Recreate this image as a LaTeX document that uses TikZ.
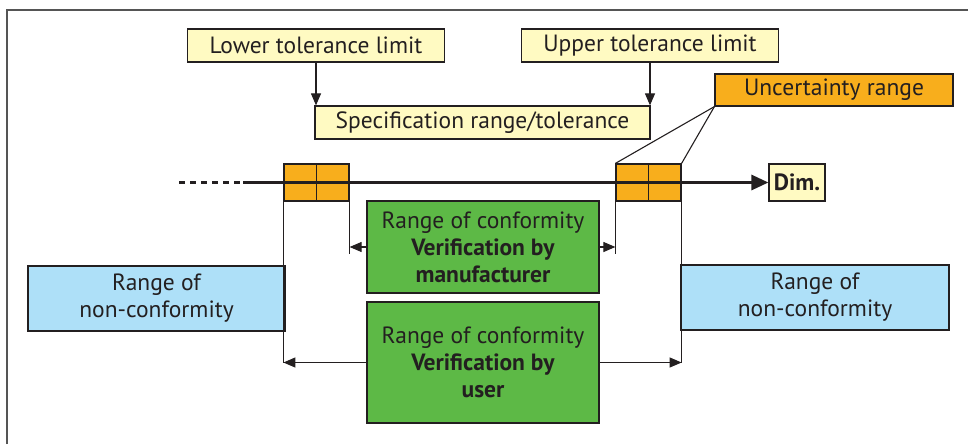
\documentclass[tikz,border=0pt]{standalone}
\usepackage{fontspec}
\setmainfont{PT Sans}
\usetikzlibrary{arrows.meta}
\definecolor{ylw}{HTML}{FFFAC2}
\definecolor{org}{HTML}{F8AE1C}
\definecolor{grn}{HTML}{5DB946}
\definecolor{blu}{HTML}{AEE0F8}
\definecolor{ink}{HTML}{231F20}
\definecolor{frm}{HTML}{555555}
\tikzset{
  bx/.style={draw=ink, line width=1.2pt, inner sep=0pt, align=center, text=ink,
     font=\fontsize{23.5}{27}\selectfont},
  ylwbox/.style={bx, fill=ylw},
  orgbox/.style={bx, fill=org},
  grnbox/.style={bx, fill=grn},
  blubox/.style={bx, fill=blu},
  thin/.style={draw=ink, line width=1.1pt},
  arr/.style={thin, -{Triangle[length=12pt,width=10pt]}},
}
\begin{document}
\begin{tikzpicture}[x=1pt,y=-1pt]
\useasboundingbox (0,0) rectangle (968,444);
% frame
\draw[frm, line width=2pt] (7,444) -- (7,10.5) -- (968,10.5);
% top boxes
\node[ylwbox, minimum width=257pt, minimum height=33pt] (lower) at (316,45.5) {Lower tolerance limit};
\node[ylwbox, minimum width=257pt, minimum height=33pt] (upper) at (650,45.5) {Upper tolerance limit};
\node[ylwbox, minimum width=335pt, minimum height=33pt] (spec) at (482.5,122.5) {Specification range/tolerance};
\node[orgbox, minimum width=238pt, minimum height=32pt] (unc) at (834,90) {Uncertainty range};
\draw[arr] (lower.south) -- (lower.south |- spec.north);
\draw[arr] (upper.south) -- (upper.south |- spec.north);
% uncertainty boxes
\node[orgbox, minimum width=65pt, minimum height=37pt] (oL) at (316.5,182.5) {};
\node[orgbox, minimum width=65pt, minimum height=37pt] (oR) at (648.5,182.5) {};
\draw[thin, line width=1.2pt] (oL.north) -- (oL.south);
\draw[thin, line width=1.2pt] (oR.north) -- (oR.south);
\node[ylwbox, minimum width=56pt, minimum height=37pt, font=\fontsize{23.5}{27}\selectfont\bfseries] (dim) at (797,182.5) {Dim.};
% axis
\coordinate (a0) at (179,182.5);
\coordinate (a1) at (243,182.5);
\draw[ink, line width=3pt, dash pattern=on 6pt off 5pt] (a0) -- (a1);
\draw[ink, line width=3pt, -{Triangle[length=17pt,width=15pt]}] (a1) -- (dim.west);
\draw[thin] (unc.south west) -- (oR.north west);
\draw[thin] (unc.south west) -- (oR.north east);
% green boxes
\node[grnbox, minimum width=232pt, minimum height=92pt] (mfr) at (483,247)
  {Range of conformity\\\textbf{Verification by}\\\textbf{manufacturer}};
\node[grnbox, minimum width=232pt, minimum height=121pt] (usr) at (483,362.5)
  {Range of conformity\\\textbf{Verification by}\\\textbf{user}};
% blue boxes
\node[blubox, minimum width=257pt, minimum height=65pt] (nL) at (156.5,298.5) {Range of\\non-conformity};
\node[blubox, minimum width=268pt, minimum height=65pt] (nR) at (815,297.5) {Range of\\non-conformity};
% extension lines
\coordinate (eL1) at (oL.south east |- 0,254);
\coordinate (eR1) at (oR.south west |- 0,254);
\coordinate (eL2) at (oL.south west |- 0,362.5);
\coordinate (eR2) at (oR.south east |- 0,362.5);
\draw[thin] (oL.south east) -- (eL1);
\draw[thin] (oR.south west) -- (eR1);
\draw[thin] (oL.south west) -- (eL2);
\draw[thin] (oR.south east) -- (eR2);
% dimension arrows
\draw[arr] (mfr.west) -- (mfr.west -| eL1);
\draw[arr] (mfr.east) -- (mfr.east -| eR1);
\draw[arr] (usr.west) -- (eL2);
\draw[arr] (usr.east) -- (eR2);
\end{tikzpicture}
\end{document}
